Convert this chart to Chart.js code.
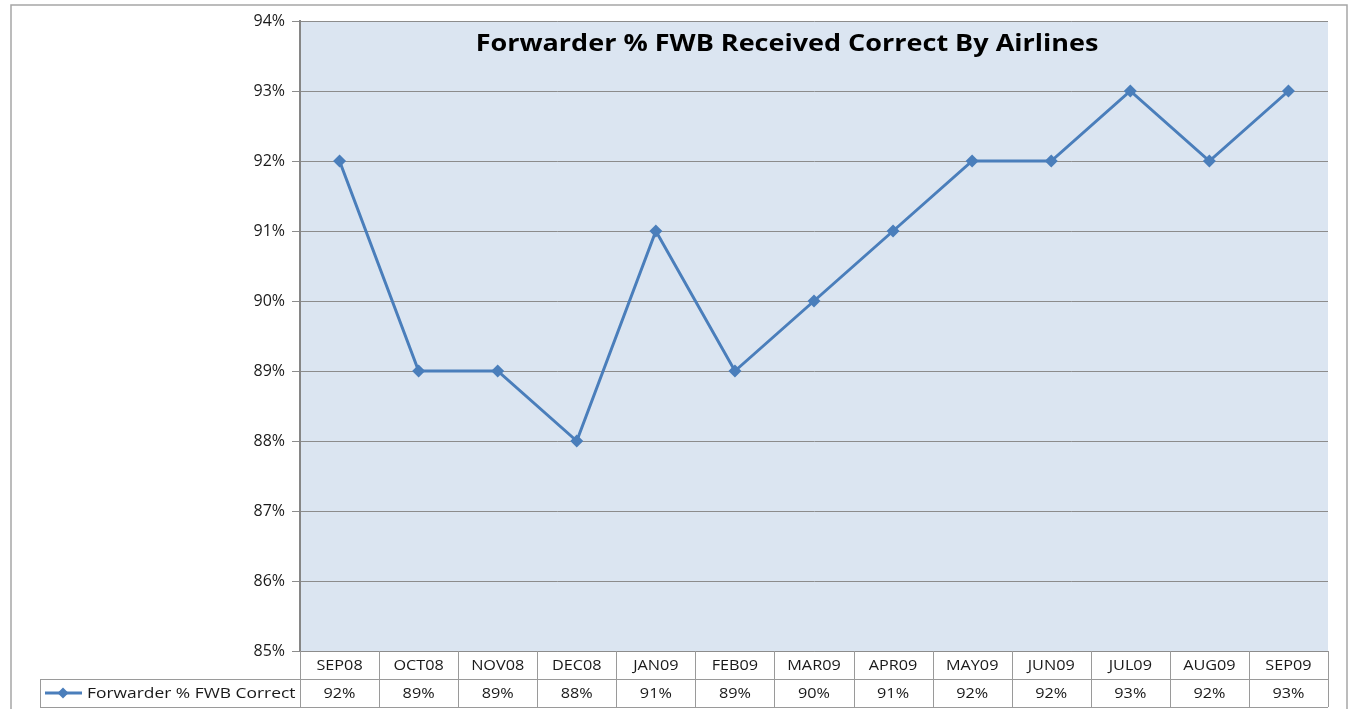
<!DOCTYPE html>
<html>
<head>
<meta charset="utf-8">
<script src="https://cdn.jsdelivr.net/npm/chart.js@4/dist/chart.umd.min.js"></script>
<style>
  html, body { margin: 0; padding: 0; background: #fff; }
  #wrap { width: 1353px; height: 709px; position: relative; }
</style>
</head>
<body>
<div id="wrap"><canvas id="chart"></canvas></div>
<script>
const months = ['SEP08', 'OCT08', 'NOV08', 'DEC08', 'JAN09', 'FEB09', 'MAR09', 'APR09', 'MAY09', 'JUN09', 'JUL09', 'AUG09', 'SEP09'];
const fwbCorrect = [92, 89, 89, 88, 91, 89, 90, 91, 92, 92, 93, 92, 93];
const seriesName = 'Forwarder % FWB Correct';
const chartTitle = 'Forwarder % FWB Received Correct By Airlines';

const lineColor = '#4a7ebb';
const gridColor = '#8c8c8c';
const tableColor = '#9a9a9a';
const textColor = '#1a1a1a';
const rowHeight = 28;

// text in the original is a bit stretched sideways
function wideText(ctx, text, x, y, stretch) {
    ctx.save();
    ctx.translate(x, y);
    ctx.scale(stretch, 1);
    ctx.fillText(text, 0, 0);
    ctx.restore();
}

// frame, plot background, title and the data table underneath
const excelLook = {
    id: 'excelLook',
    beforeDraw(chart) {
        const { ctx, chartArea: a } = chart;
        ctx.save();
        ctx.strokeStyle = '#a6a6a6';
        ctx.lineWidth = 1.5;
        ctx.strokeRect(11, 5, chart.width - 17, chart.height + 10);
        ctx.fillStyle = '#dbe5f1';
        ctx.fillRect(a.left, a.top, a.right - a.left, a.bottom - a.top);
        ctx.restore();
    },
    afterDraw(chart) {
        const { ctx, chartArea: a } = chart;
        const x = chart.scales.x;
        const colW = (a.right - a.left) / months.length;
        const top = a.bottom;
        const mid = top + rowHeight;
        const bot = mid + rowHeight;
        const legendLeft = 40;

        ctx.save();
        // title
        ctx.fillStyle = '#000';
        ctx.font = 'bold 22.5px "Open Sans", sans-serif';
        ctx.textAlign = 'center';
        ctx.textBaseline = 'middle';
        wideText(ctx, chartTitle, a.left + (a.right - a.left) / 2 - 27, a.top + 24, 1.2);

        // table lines
        ctx.strokeStyle = tableColor;
        ctx.lineWidth = 1;
        ctx.beginPath();
        ctx.moveTo(legendLeft, mid + 0.5); ctx.lineTo(a.right, mid + 0.5);
        ctx.moveTo(legendLeft, bot + 0.5); ctx.lineTo(a.right, bot + 0.5);
        ctx.moveTo(legendLeft + 0.5, mid); ctx.lineTo(legendLeft + 0.5, bot);
        for (let i = 0; i <= months.length; i++) {
            const px = Math.round(a.left + i * colW) + 0.5;
            ctx.moveTo(px, top); ctx.lineTo(px, bot);
        }
        ctx.stroke();

        // categories and values
        ctx.fillStyle = textColor;
        ctx.font = '14.5px "Open Sans", sans-serif';
        ctx.textAlign = 'center';
        months.forEach((m, i) => {
            const cx = x.getPixelForValue(i);
            wideText(ctx, m, cx, top + rowHeight / 2 + 1, 1.12);
            wideText(ctx, fwbCorrect[i] + '%', cx, mid + rowHeight / 2 + 1, 1.12);
        });

        // legend key
        const ky = mid + rowHeight / 2;
        ctx.strokeStyle = lineColor;
        ctx.lineWidth = 3;
        ctx.beginPath();
        ctx.moveTo(45, ky); ctx.lineTo(82, ky);
        ctx.stroke();
        ctx.fillStyle = lineColor;
        ctx.beginPath();
        ctx.moveTo(63, ky - 5.5); ctx.lineTo(68.5, ky); ctx.lineTo(63, ky + 5.5); ctx.lineTo(57.5, ky);
        ctx.closePath();
        ctx.fill();
        ctx.fillStyle = textColor;
        ctx.textAlign = 'left';
        wideText(ctx, seriesName, 87, ky + 1, 1.2);
        ctx.restore();
    }
};

new Chart(document.getElementById('chart'), {
    type: 'line',
    data: {
        labels: months,
        datasets: [{
            label: seriesName,
            data: fwbCorrect,
            borderColor: lineColor,
            backgroundColor: lineColor,
            borderWidth: 3,
            pointStyle: 'rectRot',
            pointRadius: 6.5,
            pointBorderWidth: 0,
            tension: 0,
            fill: false
        }]
    },
    options: {
        responsive: true,
        maintainAspectRatio: false,
        animation: false,
        layout: { padding: { top: 21, right: 25, bottom: 58, left: 0 } },
        plugins: {
            legend: { display: false },
            title: { display: false },
            tooltip: { enabled: false }
        },
        scales: {
            x: {
                offset: true,
                grid: { display: false },
                border: { display: true, color: gridColor, width: 1 },
                ticks: { display: false },
                afterFit: s => { s.height = 0; }
            },
            y: {
                min: 85,
                max: 94,
                ticks: {
                    stepSize: 1,
                    padding: 7,
                    color: textColor,
                    font: { family: '"Open Sans", sans-serif', size: 16 },
                    callback: v => v + '%'
                },
                grid: { color: gridColor, lineWidth: 1, tickLength: 8, tickColor: gridColor },
                border: { display: true, color: '#868686', width: 2 },
                afterFit: s => { s.width = 300; }
            }
        }
    },
    plugins: [excelLook]
});
</script>
</body>
</html>
